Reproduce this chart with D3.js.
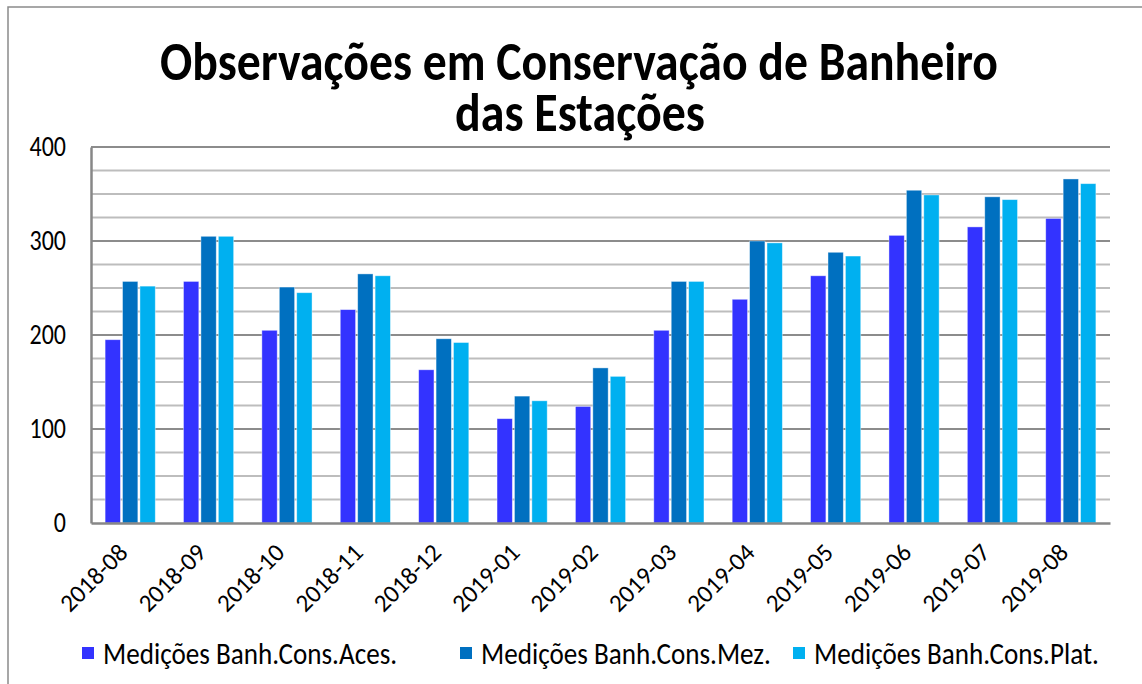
<!DOCTYPE html>
<html>
<head>
<meta charset="utf-8">
<script src="https://cdn.jsdelivr.net/npm/d3@7"></script>
<style>
  body { margin: 0; background: #fff; }
  svg { display: block; }
  svg text { font-family: Carlito, Lato, "Open Sans", sans-serif; }
</style>
</head>
<body>
<div id="chart"></div>
<script>
var months = ['2018-08', '2018-09', '2018-10', '2018-11', '2018-12', '2019-01', '2019-02',
              '2019-03', '2019-04', '2019-05', '2019-06', '2019-07', '2019-08'];
var aces = [195, 257, 205, 227, 163, 111, 124, 205, 238, 263, 306, 315, 324];
var mez  = [257, 305, 251, 265, 196, 135, 165, 257, 300, 288, 354, 347, 366];
var plat = [252, 305, 245, 263, 192, 130, 156, 257, 298, 284, 349, 344, 361];
var seriesNames = ['Medições Banh.Cons.Aces.', 'Medições Banh.Cons.Mez.', 'Medições Banh.Cons.Plat.'];
var colors = ['#3333FF', '#0070C0', '#00B0F0'];
var yTicks = [0, 100, 200, 300, 400];
var titleLines = ['Observações em Conservação de Banheiro', 'das Estações'];

var width = 1142, height = 684,
    margin = {top: 147, right: 32, bottom: 161, left: 91},
    stretch = 1.15; // reference text is a bit taller than wide

var series = [aces, mez, plat];
var rows = months.map(function(m, i) {
  return {month: m, values: series.map(function(s, j) { return {key: j, value: s[i]}; })};
});

var svg = d3.select('#chart').append('svg')
    .attr('width', width)
    .attr('height', height);

// chart border (only left/top visible in the reference)
svg.append('rect')
    .attr('x', 8).attr('y', 7)
    .attr('width', width + 20).attr('height', height + 20)
    .attr('fill', 'none')
    .attr('stroke', '#8a8a8a')
    .attr('stroke-width', 1.5);

var xScale = d3.scaleBand()
    .domain(months)
    .range([margin.left, width - margin.right])
    .paddingInner(0.36)
    .paddingOuter(0.18);

var xInner = d3.scaleBand()
    .domain([0, 1, 2])
    .range([0, xScale.bandwidth()])
    .paddingInner(0.12);

var yScale = d3.scaleLinear()
    .domain([0, 400])
    .range([height - margin.bottom, margin.top]);

// gridlines, minor every 25, major every 100
var grid = svg.append('g').attr('class', 'grid');
grid.selectAll('line')
    .data(d3.range(25, 401, 25))
    .enter().append('line')
    .attr('x1', margin.left)
    .attr('x2', width - margin.right)
    .attr('y1', function(d) { return yScale(d); })
    .attr('y2', function(d) { return yScale(d); })
    .attr('stroke', function(d) { return d % 100 === 0 ? '#8c8c8c' : '#bdbdbd'; })
    .attr('stroke-width', 2.2);

// bars
var groups = svg.append('g').selectAll('g')
    .data(rows)
    .enter().append('g')
    .attr('transform', function(d) { return 'translate(' + xScale(d.month) + ',0)'; });

groups.selectAll('rect')
    .data(function(d) { return d.values; })
    .enter().append('rect')
    .attr('x', function(d) { return xInner(d.key); })
    .attr('width', xInner.bandwidth())
    .attr('y', function(d) { return yScale(d.value); })
    .attr('height', function(d) { return yScale(0) - yScale(d.value); })
    .attr('fill', function(d) { return colors[d.key]; })
    .attr('stroke', '#ffffff')
    .attr('stroke-opacity', 0.5)
    .attr('stroke-width', 0.8);

// axes
var yAxis = d3.axisLeft(yScale).tickValues(yTicks).tickSize(0).tickPadding(25);
var gy = svg.append('g')
    .attr('transform', 'translate(' + margin.left + ',0)')
    .call(yAxis)
    .attr('font-family', null)
    .attr('font-size', null);
gy.select('.domain').attr('stroke', '#878787').attr('stroke-width', 2.5);
gy.selectAll('text')
    .attr('fill', '#000')
    .attr('dy', '0.3em')
    .attr('transform', 'scale(1,' + stretch + ')')
    .style('font-size', '24px');

var xAxis = d3.axisBottom(xScale).tickSize(0).tickPadding(0);
var gx = svg.append('g')
    .attr('transform', 'translate(0,' + yScale(0) + ')')
    .call(xAxis)
    .attr('font-family', null)
    .attr('font-size', null);
gx.select('.domain').attr('stroke', '#878787').attr('stroke-width', 2.5);
gx.selectAll('text')
    .attr('fill', '#000')
    .style('font-size', '25px')
    .attr('text-anchor', 'end')
    .attr('y', 0)
    .attr('dy', 0)
    .attr('transform', 'translate(-1,31) rotate(-45)');

function fit(sel, target) {
  var size = parseFloat(sel.style('font-size'));
  var len = sel.node().getComputedTextLength();
  sel.style('font-size', (size * target / len) + 'px');
  return size * target / len;
}

// title
var title = svg.append('g').attr('class', 'title');
var t1 = title.append('text')
    .attr('transform', 'translate(579,80) scale(1,' + stretch + ')')
    .attr('text-anchor', 'middle')
    .style('font-weight', 'bold')
    .style('font-size', '40px')
    .text(titleLines[0]);
fit(t1, 838);
var t2 = title.append('text')
    .attr('transform', 'translate(580,131) scale(1,' + stretch + ')')
    .attr('text-anchor', 'middle')
    .style('font-weight', 'bold')
    .style('font-size', '40px')
    .text(titleLines[1]);
fit(t2, 250);

// legend
var legendX = [82, 460, 793];
var legend = svg.append('g').selectAll('g')
    .data(seriesNames)
    .enter().append('g')
    .attr('transform', function(d, i) { return 'translate(' + legendX[i] + ',653)'; });
legend.append('rect')
    .attr('x', 0).attr('y', -6)
    .attr('width', 12).attr('height', 12)
    .attr('fill', function(d, i) { return colors[i]; });
var legendText = legend.append('text')
    .attr('transform', 'translate(21,0) scale(1,' + stretch + ')')
    .attr('dy', '0.35em')
    .style('font-size', '21px')
    .attr('fill', '#000')
    .text(function(d) { return d; });
var legendSize = fit(d3.select(legendText.nodes()[0]), 294);
legendText.style('font-size', legendSize + 'px');
</script>
</body>
</html>
